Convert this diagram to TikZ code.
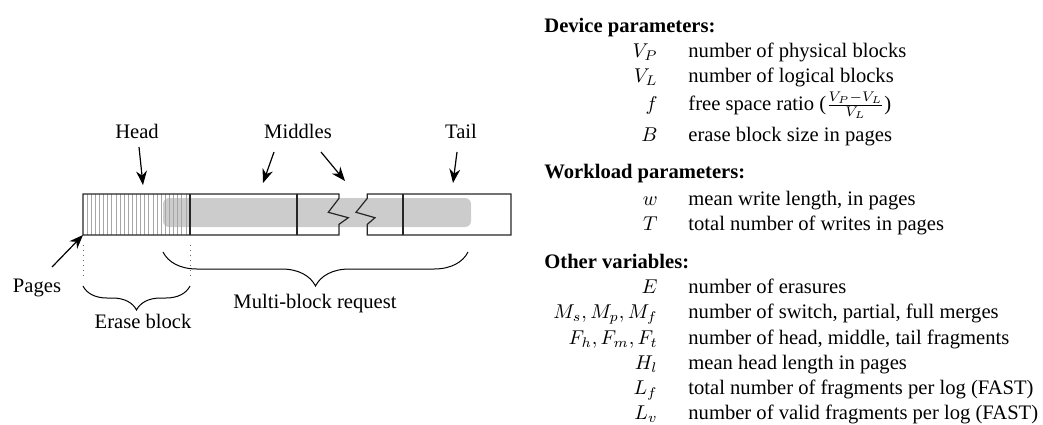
\documentclass[tikz,border=0pt]{standalone}
\usepackage{fontspec}
\setmainfont{Liberation Serif}
\usetikzlibrary{arrows.meta,decorations.pathreplacing}
\begin{document}
\begin{tikzpicture}[x=0.5pt,y=-0.5pt,
  txt/.style={inner sep=0pt,font=\fontsize{10.3}{12}\selectfont},
  hdr/.style={txt,anchor=base west,font=\fontsize{10.3}{12}\selectfont\bfseries},
  sym/.style={txt,anchor=base east},
  dsc/.style={txt,anchor=base west},
  lbl/.style={txt,anchor=base},
  pointer/.style={line width=0.6pt,-{Stealth[length=7pt,width=5.4pt]}},
  outline/.style={line width=0.6pt,draw=black!85},
  pagestripe/.style={line width=0.35pt,draw=black!35},
  reqbar/.style={fill=black!20,rounded corners=3pt},
  bracestyle/.style={line width=0.5pt,decorate,decoration={brace,mirror,amplitude=#1}},
  guide/.style={dotted,line width=0.5pt,draw=black!60}]
\useasboundingbox (0,0) rectangle (1043,424);

% ---------- left diagram ----------
\fill[reqbar] (163,198) rectangle (471,227);
\foreach \i in {1,...,25} {
  \draw[pagestripe] ({83+\i*107/26},194) -- ({83+\i*107/26},235);
}
\draw[outline] (339,194) -- (83,194) -- (83,235) -- (339,235) -- (339,224.3)
  -- (348.3,217.7) -- (328.3,212.3) -- (339,198.3) -- cycle;
\draw[outline] (367.3,194) -- (511,194) -- (511,235) -- (367.3,235) -- (367.3,224.3)
  -- (375,217.7) -- (356,212.3) -- (367.3,198.3) -- cycle;
\draw[outline] (190,194) -- (190,235);
\draw[outline] (297,194) -- (297,235);
\draw[outline] (403,194) -- (403,235);

\node[lbl] (head) at (137,138) {Head};
\node[lbl] (middles) at (298,138) {Middles};
\node[lbl] (tail) at (461,138) {Tail};
\node[lbl] (pages) at (37,292) {Pages};
\node[lbl] (erase) at (143,328) {Erase block};
\node[lbl] (multi) at (315,308) {Multi-block request};

\coordinate (hs) at (139,147); \coordinate (ht) at (143,185);
\coordinate (m1s) at (274,152); \coordinate (m1t) at (263,183);
\coordinate (m2s) at (321,152); \coordinate (m2t) at (345,181);
\coordinate (ts) at (457,152); \coordinate (tt) at (453,183);
\coordinate (ps) at (52,267); \coordinate (pt) at (83,235);
\draw[pointer] (hs) -- (ht);
\draw[pointer] (m1s) -- (m1t);
\draw[pointer] (m2s) -- (m2t);
\draw[pointer] (ts) -- (tt);
\draw[pointer] (ps) -- (pt);

\coordinate (g1a) at (83,245); \coordinate (g1b) at (83,278);
\coordinate (g2a) at (190,245); \coordinate (g2b) at (190,278);
\draw[guide] (g1a) -- (g1b);
\draw[guide] (g2a) -- (g2b);

\coordinate (eb1) at (83,286); \coordinate (eb2) at (190,286);
\draw[bracestyle=12pt] (eb1) -- (eb2);
\coordinate (mb1) at (163,252); \coordinate (mb2) at (468,252);
\draw[bracestyle=17pt] (mb1) -- (mb2);

% ---------- right table ----------
\node[hdr] (h1) at (544,32) {Device parameters:};
\node[sym] (s1) at (658,57) {$V_P$};
\node[dsc] (d1) at (688,57) {number of physical blocks};
\node[sym] (s2) at (658,82) {$V_L$};
\node[dsc] (d2) at (688,82) {number of logical blocks};
\node[sym] (s3) at (658,110) {$f$};
\node[dsc] (d3) at (688,110) {free space ratio ($\frac{V_P-V_L}{V_L}$)};
\node[sym] (s4) at (658,141) {$B$};
\node[dsc] (d4) at (688,141) {erase block size in pages};

\node[hdr] (h2) at (544,178) {Workload parameters:};
\node[sym] (s5) at (658,205) {$w$};
\node[dsc] (d5) at (688,205) {mean write length, in pages};
\node[sym] (s6) at (658,230) {$T$};
\node[dsc] (d6) at (688,230) {total number of writes in pages};

\node[hdr] (h3) at (544,268) {Other variables:};
\node[sym] (s7) at (658,293) {$E$};
\node[dsc] (d7) at (688,293) {number of erasures};
\node[sym] (s8) at (658,318) {$M_s,M_p,M_f$};
\node[dsc] (d8) at (688,318) {number of switch, partial, full merges};
\node[sym] (s9) at (658,344) {$F_h,F_m,F_t$};
\node[dsc] (d9) at (688,344) {number of head, middle, tail fragments};
\node[sym] (s10) at (658,369) {$H_l$};
\node[dsc] (d10) at (688,369) {mean head length in pages};
\node[sym] (s11) at (658,394) {$L_f$};
\node[dsc] (d11) at (688,394) {total number of fragments per log (FAST)};
\node[sym] (s12) at (658,419) {$L_v$};
\node[dsc] (d12) at (688,419) {number of valid fragments per log (FAST)};
\end{tikzpicture}
\end{document}
